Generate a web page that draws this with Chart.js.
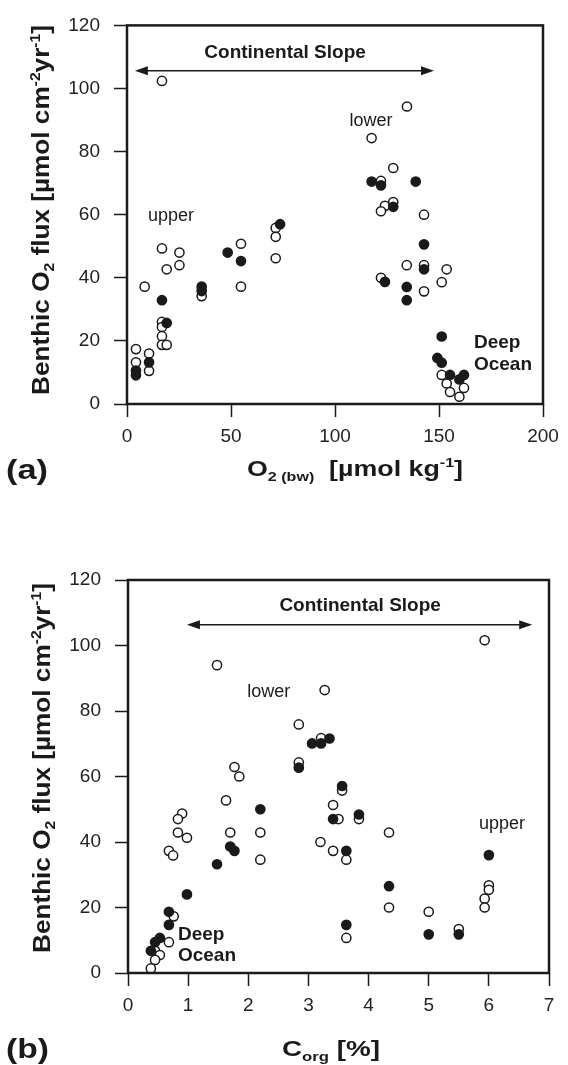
<!DOCTYPE html>
<html>
<head>
<meta charset="utf-8">
<script src="https://cdn.jsdelivr.net/npm/chart.js@4.4.1/dist/chart.umd.min.js"></script>
<style>
  body { margin: 0; background: #fff; }
  #panelA { position: absolute; left: 0; top: 0; }
  #panelB { position: absolute; left: 0; top: 500px; }
</style>
</head>
<body>
<canvas id="panelA" width="568" height="500"></canvas>
<canvas id="panelB" width="568" height="565"></canvas>
<script>
// ---- datos panel (a): O2 de fondo vs flujo bentico
const o2Abiertos = [16.8, 134.6, 117.6, 128, 122.1, 128, 124, 122.1, 142.8, 134.5, 142.8, 153.7, 122.1, 151.3, 142.8,
  151.3, 153.7, 155.3, 162, 159.8, 4.3, 4.3, 10.6, 10.6, 8.5, 16.8, 19.1, 25.2, 25.2, 16.8, 16.8, 16.8, 16.8, 19.1,
  35.9, 54.8, 54.8, 71.5, 71.5, 71.5];
const flujoAbiertosA = [102.4, 94.3, 84.3, 74.8, 70.7, 64, 62.8, 61.1, 60, 44, 44, 42.7, 40, 38.6, 35.7,
  9.2, 6.5, 3.8, 5.1, 2.3, 17.4, 13.2, 16, 10.5, 37.2, 49.3, 42.7, 48, 44, 26, 24.4, 21.5, 18.75, 18.75,
  34.2, 50.8, 37.2, 55.8, 53, 46.2];
const o2Llenos = [117.6, 122.1, 138.8, 128, 142.8, 142.8, 124, 134.5, 134.5, 151.3, 149.2, 151.3, 155.3, 159.8, 162,
  4.3, 4.3, 10.6, 16.8, 19.1, 35.9, 35.9, 48.4, 54.8, 73.6];
const flujoLlenosA = [70.5, 69.3, 70.5, 62.5, 50.6, 42.7, 38.7, 37.1, 32.9, 21.4, 14.6, 13.1, 9.2, 7.8, 9.2,
  10.6, 9.1, 13.2, 32.9, 25.7, 37.2, 35.8, 48, 45.3, 57];

// ---- datos panel (b): Corg vs flujo bentico
const corgAbiertos = [5.93, 1.48, 3.27, 2.84, 3.21, 2.84, 1.77, 1.85, 3.56, 1.63, 3.41, 3.5, 3.84, 0.9, 0.83, 0.83, 0.98,
  0.68, 0.75, 1.7, 2.2, 2.2, 3.2, 3.41, 3.63, 4.34, 4.34, 5.0, 5.5, 3.63, 6.0, 6.0, 5.93, 5.93, 0.76, 0.68, 0.45, 0.53,
  0.45, 0.38];
const flujoAbiertosB = [101.6, 94, 86.4, 75.9, 71.7, 64.3, 62.9, 60, 55.7, 52.7, 51.3, 47, 47, 48.7, 47, 42.9, 41.3,
  37.3, 35.9, 42.9, 42.9, 34.6, 40, 37.3, 34.6, 42.9, 20, 18.7, 13.4, 10.7, 26.8, 25.4, 22.7, 20, 17.3, 9.4, 6.8, 5.5,
  4.0, 1.4];
const corgLlenos = [3.06, 3.21, 3.35, 2.84, 3.56, 2.2, 3.41, 3.84, 1.7, 1.77, 1.48, 3.63, 4.34, 5.0, 5.5, 3.63, 6.0,
  0.98, 0.68, 0.68, 0.53, 0.45, 0.38];
const flujoLlenosB = [70.1, 70.1, 71.6, 62.7, 57.1, 50, 47, 48.4, 38.6, 37.3, 33.2, 37.3, 26.5, 11.8, 11.8, 14.7, 36,
  24, 18.7, 14.7, 10.7, 9.4, 6.8];

// ---- ejes
const ticksO2 = [0, 50, 100, 150, 200];
const ticksCorg = [0, 1, 2, 3, 4, 5, 6, 7];
const ticksFlujo = [0, 20, 40, 60, 80, 100, 120];

const FUENTE = "'Liberation Sans', Arial, sans-serif";
const NEGRO = '#1a1a1a';

const puntos = (xs, ys) => xs.map((x, i) => ({ x: x, y: ys[i] }));

// texto con subindices / superindices, estirado a un ancho dado
function textoRico(ctx, partes, x, y, size, ancho, align) {
  const medir = p => {
    const s = p[1] ? size * 0.6 : size;
    ctx.font = 'bold ' + s + 'px ' + FUENTE;
    return ctx.measureText(p[0]).width;
  };
  const total = partes.reduce((acc, p) => acc + medir(p), 0);
  const sx = ancho ? ancho / total : 1;
  let x0 = align === 'left' ? x : x - total * sx / 2;
  ctx.save();
  ctx.translate(x0, y + size * 0.36);
  ctx.scale(sx, 1);
  ctx.textBaseline = 'alphabetic';
  ctx.textAlign = 'left';
  let cx = 0;
  partes.forEach(p => {
    const w = medir(p);
    let dy = 0;
    if (p[1] === 'sub') dy = size * 0.22;
    if (p[1] === 'sup') dy = -size * 0.4;
    ctx.fillText(p[0], cx, dy);
    cx += w;
  });
  ctx.restore();
}

const anotaciones = {
  id: 'anotaciones',
  afterDraw(chart, args, opts) {
    const { ctx, chartArea: a, scales: { x, y } } = chart;
    ctx.save();
    ctx.strokeStyle = NEGRO;
    ctx.fillStyle = NEGRO;
    ctx.lineWidth = 2.5;
    ctx.strokeRect(a.left, a.top, a.right - a.left, a.bottom - a.top);

    // flecha doble
    const f = opts.flecha;
    const fx1 = x.getPixelForValue(f.x1), fx2 = x.getPixelForValue(f.x2), fy = y.getPixelForValue(f.y);
    ctx.lineWidth = 1.5;
    ctx.beginPath();
    ctx.moveTo(fx1 + 8, fy);
    ctx.lineTo(fx2 - 8, fy);
    ctx.stroke();
    [[fx1, 1], [fx2, -1]].forEach(([px, d]) => {
      ctx.beginPath();
      ctx.moveTo(px, fy);
      ctx.lineTo(px + d * 13, fy - 4.5);
      ctx.lineTo(px + d * 13, fy + 4.5);
      ctx.closePath();
      ctx.fill();
    });

    // textos dentro del grafico
    opts.textos.forEach(t => {
      ctx.font = (t.bold ? 'bold ' : '') + t.size + 'px ' + FUENTE;
      ctx.textAlign = t.align || 'center';
      ctx.textBaseline = 'alphabetic';
      ctx.fillText(t.t, x.getPixelForValue(t.x), y.getPixelForValue(t.y) + t.size * 0.36);
    });

    // titulos de ejes y letra del panel
    const tx = opts.tituloX;
    textoRico(ctx, tx.partes, tx.x, tx.y, tx.size, tx.ancho);
    const p = opts.panel;
    textoRico(ctx, [[p.t]], p.x, p.y, p.size, p.ancho, 'left');
    const ty = opts.tituloY;
    ctx.save();
    ctx.translate(ty.x, ty.y);
    ctx.rotate(-Math.PI / 2);
    textoRico(ctx, ty.partes, 0, 0, ty.size, ty.ancho);
    ctx.restore();
    ctx.restore();
  }
};

const tituloFlujo = [['Benthic O'], ['2', 'sub'], [' flux [µmol cm'], ['-2', 'sup'], ['yr'], ['-1', 'sup'], [']']];

function escala(min, max, valores, ancho, alto) {
  return {
    type: 'linear', min: min, max: max,
    afterBuildTicks: s => { s.ticks = valores.map(v => ({ value: v })); },
    afterFit: s => { if (ancho) s.width = ancho; if (alto) s.height = alto; },
    ticks: { color: '#222', font: { family: FUENTE, size: 19 }, padding: ancho ? 14 : 8 },
    grid: { drawOnChartArea: false, drawTicks: true, tickLength: 13, tickColor: NEGRO, tickWidth: 1.5 },
    border: { display: false }
  };
}

function datasets(xa, ya, xl, yl) {
  return [
    { label: 'llenos', data: puntos(xl, yl), order: 0, pointRadius: 4.6, pointBackgroundColor: NEGRO,
      pointBorderColor: NEGRO, pointBorderWidth: 1.5 },
    { label: 'abiertos', data: puntos(xa, ya), order: 1, pointRadius: 4.6, pointBackgroundColor: '#fff',
      pointBorderColor: NEGRO, pointBorderWidth: 1.5 }
  ];
}

window.graficaA = new Chart(document.getElementById('panelA').getContext('2d'), {
  type: 'scatter',
  data: { datasets: datasets(o2Abiertos, flujoAbiertosA, o2Llenos, flujoLlenosA) },
  options: {
    responsive: false, animation: false,
    layout: { padding: { top: 16, right: 25, left: 0, bottom: 0 } },
    scales: {
      x: escala(0, 200, ticksO2, null, 96),
      y: escala(0, 120, ticksFlujo, 127, null)
    },
    plugins: {
      legend: { display: false }, tooltip: { enabled: false },
      anotaciones: {
        flecha: { x1: 3.8, x2: 147.6, y: 105.6 },
        textos: [
          { t: 'Continental Slope', x: 76, y: 111.8, size: 19, bold: true },
          { t: 'lower', x: 117.3, y: 90.3, size: 18 },
          { t: 'upper', x: 21.2, y: 60, size: 18 },
          { t: 'Deep', x: 166.8, y: 19.8, size: 19, bold: true, align: 'left' },
          { t: 'Ocean', x: 166.8, y: 13, size: 19, bold: true, align: 'left' }
        ],
        tituloX: { partes: [['O'], ['2 (bw)', 'sub'], ['  [µmol kg'], ['-1', 'sup'], [']']], x: 355, y: 468, size: 22, ancho: 216 },
        tituloY: { partes: tituloFlujo, x: 41, y: 210, size: 23, ancho: 370 },
        panel: { t: '(a)', x: 6, y: 469, size: 27, ancho: 42 }
      }
    }
  },
  plugins: [anotaciones]
});

window.graficaB = new Chart(document.getElementById('panelB').getContext('2d'), {
  type: 'scatter',
  data: { datasets: datasets(corgAbiertos, flujoAbiertosB, corgLlenos, flujoLlenosB) },
  options: {
    responsive: false, animation: false,
    layout: { padding: { top: 80, right: 19, left: 0, bottom: 0 } },
    scales: {
      x: escala(0, 7, ticksCorg, null, 92),
      y: escala(0, 120, ticksFlujo, 128, null)
    },
    plugins: {
      legend: { display: false }, tooltip: { enabled: false },
      anotaciones: {
        flecha: { x1: 0.98, x2: 6.72, y: 106.3 },
        textos: [
          { t: 'Continental Slope', x: 3.86, y: 112.7, size: 19, bold: true },
          { t: 'lower', x: 2.34, y: 86.4, size: 18 },
          { t: 'upper', x: 6.22, y: 45.8, size: 18 },
          { t: 'Deep', x: 0.83, y: 12.2, size: 19, bold: true, align: 'left' },
          { t: 'Ocean', x: 0.83, y: 5.8, size: 19, bold: true, align: 'left' }
        ],
        tituloX: { partes: [['C'], ['org', 'sub'], [' [%]']], x: 331, y: 548, size: 22, ancho: 98 },
        tituloY: { partes: tituloFlujo, x: 42, y: 268, size: 23, ancho: 370 },
        panel: { t: '(b)', x: 6, y: 548, size: 27, ancho: 43 }
      }
    }
  },
  plugins: [anotaciones]
});
</script>
</body>
</html>
